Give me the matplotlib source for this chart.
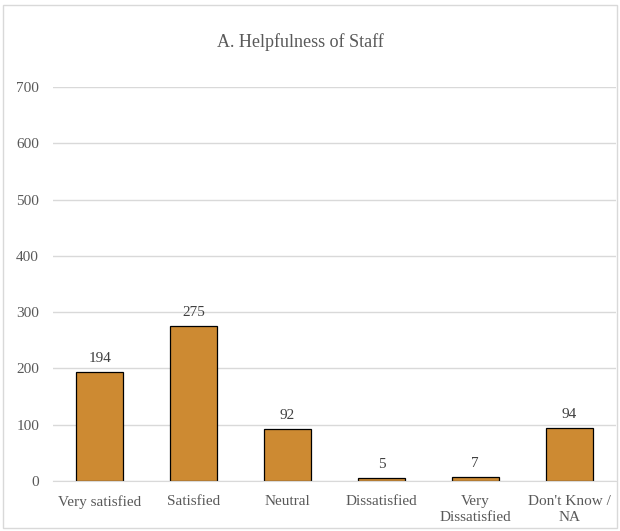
import matplotlib.pyplot as plt
from matplotlib.patches import Rectangle

categories = ["Very satisfied", "Satisfied", "Neutral", "Dissatisfied",
              "Very\nDissatisfied", "Don't Know /\nNA"]
counts = [194, 275, 92, 5, 7, 94]
yticks = [0, 100, 200, 300, 400, 500, 600, 700]

plt.rcParams["font.family"] = ["Liberation Serif", "DejaVu Serif"]
text_color = "#595959"

fig = plt.figure(figsize=(6.2, 5.31), dpi=100)
fig.patches.append(Rectangle((3 / 620, 3 / 531), 614 / 620, 523 / 531,
                             transform=fig.transFigure, fill=False,
                             edgecolor="#d9d9d9", linewidth=1))
ax = fig.add_axes([53 / 620, 1 - 481 / 531, 563 / 620, 394 / 531])

x = range(len(categories))
bars = ax.bar(x, counts, width=0.5, color="#cd8a32", edgecolor="black",
              linewidth=0.9, zorder=3)
for xi, v in zip(x, counts):
    ax.annotate(str(v), (xi, v), xytext=(0, 5), textcoords="offset points",
                ha="center", va="bottom", fontsize=11, color="#404040")

ax.set_xlim(-0.5, len(categories) - 0.5)
ax.set_ylim(0, 700)
ax.set_yticks(yticks)
ax.set_xticks(list(x))
ax.set_xticklabels(categories, fontsize=11, color=text_color, linespacing=1.35)
ax.tick_params(axis="y", labelsize=11, labelcolor=text_color, length=0, pad=10)
ax.tick_params(axis="x", length=0, pad=10)
ax.grid(axis="y", color="#d9d9d9", linewidth=1, zorder=0)
for s in ["top", "right", "left"]:
    ax.spines[s].set_visible(False)
ax.spines["bottom"].set_color("#d9d9d9")
ax.spines["bottom"].set_zorder(4)

fig.text(300 / 620, 1 - 42 / 531, "A. Helpfulness of Staff",
         ha="center", va="center", fontsize=13, color=text_color)

fig.savefig("out.png", dpi=100)
